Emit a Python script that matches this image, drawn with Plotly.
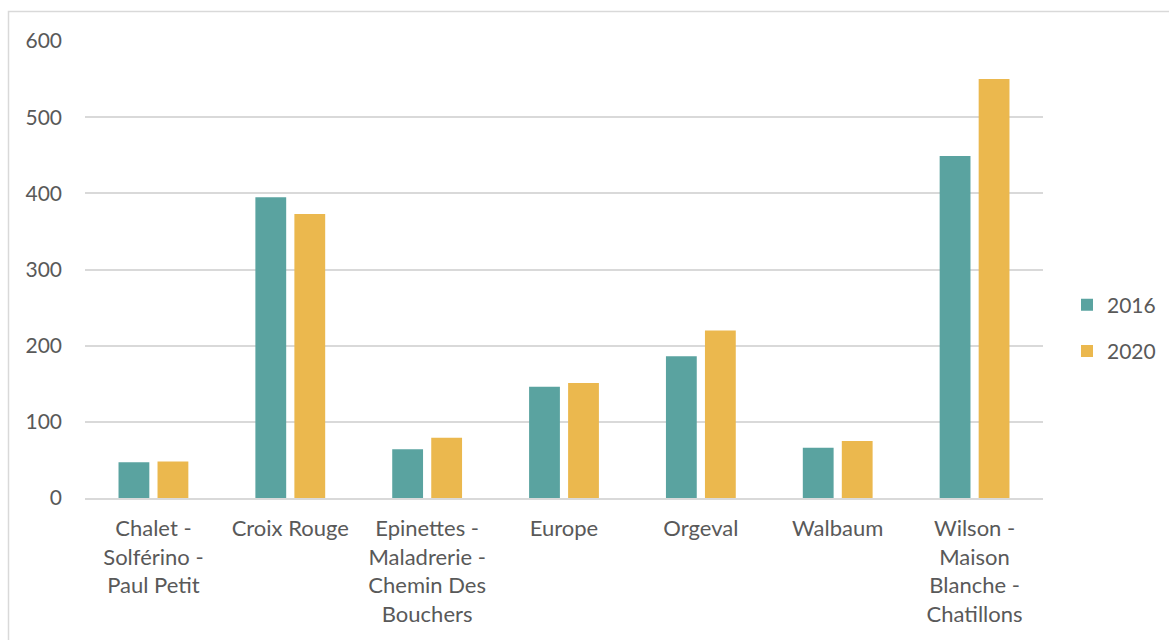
import plotly.graph_objects as go

# Neighbourhood names (line breaks as shown under the axis)
categories = [
    "Chalet -<br>Solférino -<br>Paul Petit",
    "Croix Rouge",
    "Epinettes -<br>Maladrerie -<br>Chemin Des<br>Bouchers",
    "Europe",
    "Orgeval",
    "Walbaum",
    "Wilson -<br>Maison<br>Blanche -<br>Chatillons",
]
values_2016 = [47, 395, 64, 146, 186, 66, 449]
values_2020 = [48, 373, 79, 151, 220, 75, 550]
y_ticks = [0, 100, 200, 300, 400, 500, 600]

W, H = 1169, 640
L, R, T, B = 85, 126, 41, 142
plot_w = W - L - R
plot_h = H - T - B

TEXT = "#595959"
GRID = "#D9D9D9"
FONT = "Lato"

fig = go.Figure()
fig.add_trace(go.Bar(
    x=categories, y=values_2016, name="2016", legendgroup="a",
    marker=dict(color="#5AA3A0", line=dict(width=0)),
))
fig.add_trace(go.Bar(
    x=categories, y=values_2020, name="2020", legendgroup="b",
    marker=dict(color="#EBB84E", line=dict(width=0)),
))

# light frame around the chart area
fig.add_shape(
    type="rect", xref="paper", yref="paper",
    x0=(8.5 - L) / plot_w, x1=2.0,
    y0=-1.0, y1=(H - B - 11.5) / plot_h,
    line=dict(color=GRID, width=1.5), fillcolor="rgba(0,0,0,0)",
    layer="below",
)

fig.update_layout(
    width=W, height=H,
    margin=dict(l=L, r=R, t=T, b=B, pad=0, autoexpand=False),
    paper_bgcolor="white", plot_bgcolor="white",
    barmode="group", bargap=0.43, bargroupgap=0.21,
    font=dict(family=FONT, size=21, color=TEXT),
    showlegend=True,
    legend=dict(
        xref="container", yref="container",
        x=1067 / W, xanchor="left",
        y=(H - 328) / H, yanchor="middle",
        font=dict(family=FONT, size=21, color=TEXT),
        tracegroupgap=16, itemwidth=30,
        bgcolor="rgba(0,0,0,0)",
    ),
    xaxis=dict(
        showgrid=False, showline=True, linecolor=GRID, linewidth=1.5,
        ticks="", tickfont=dict(family=FONT, size=22, color=TEXT),
        ticklabelstandoff=10,
    ),
    yaxis=dict(
        range=[0, 600], tickvals=y_ticks,
        showgrid=True, gridcolor=GRID, gridwidth=1.5,
        zeroline=False, showline=False, ticks="",
        tickfont=dict(family=FONT, size=21, color=TEXT),
        ticklabelstandoff=22,
    ),
)

fig.write_html("out.html")
